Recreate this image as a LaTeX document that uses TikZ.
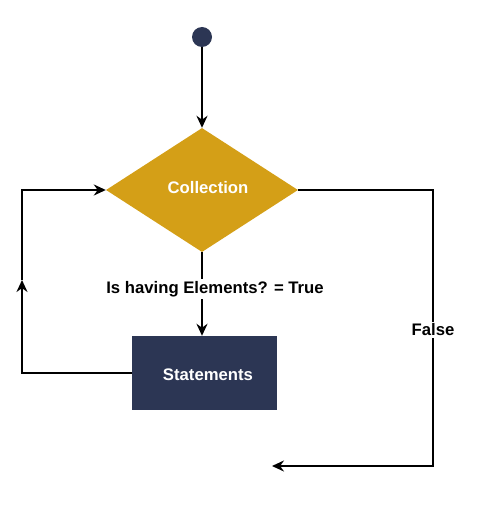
\documentclass[tikz,border=0pt]{standalone}
\usepackage{fontspec}
\setmainfont{Liberation Sans}
\usetikzlibrary{shapes.geometric,arrows.meta}
\definecolor{gold}{HTML}{D49F17}
\definecolor{navy}{HTML}{2C3654}
\begin{document}
\begin{tikzpicture}[x=1pt,y=-1pt,
  line/.style={line width=2.2pt,black},
  arr/.style={line,-{Stealth[length=12pt,width=11pt]}},
  lbl/.style={font=\bfseries\fontsize{16.7}{19}\selectfont,text=black,fill=white,inner sep=2pt},
  wlbl/.style={font=\bfseries\fontsize{16.7}{19}\selectfont,text=white}]
\useasboundingbox (0,0) rectangle (485,513);
\node[circle,fill=navy,minimum size=20pt,inner sep=0] (start) at (202,37) {};
\node[diamond,fill=gold,minimum width=192pt,minimum height=124pt,aspect=1.548,inner sep=0] (coll) at (202,190) {};
\node[wlbl] (colltxt) at (208,188) {Collection};
\node[rectangle,fill=navy,minimum width=145pt,minimum height=74pt,inner sep=0] (stmt) at (204.5,373) {};
\node[wlbl] (stmttxt) at (208,375) {Statements};
\coordinate (bl) at (22,373);
\coordinate (ml) at (22,280);
\coordinate (tl) at (22,190);
\coordinate (tr) at (433,190);
\coordinate (br) at (433,466);
\coordinate (endf) at (272,466);
\draw[arr] (start) -- (coll.north);
\draw[arr] (coll.south) -- (coll.south |- stmt.north);
\node[lbl] (truelbl) at (215,289) {Is having Elements? = True};
\draw[arr] (stmt.west) -- (bl) -- (ml);
\draw[arr] (ml) -- (tl) -- (coll.west);
\draw[arr] (coll.east) -- (tr) -- (br) -- (endf);
\node[lbl] (falselbl) at (433,330) {False};
\end{tikzpicture}
\end{document}
